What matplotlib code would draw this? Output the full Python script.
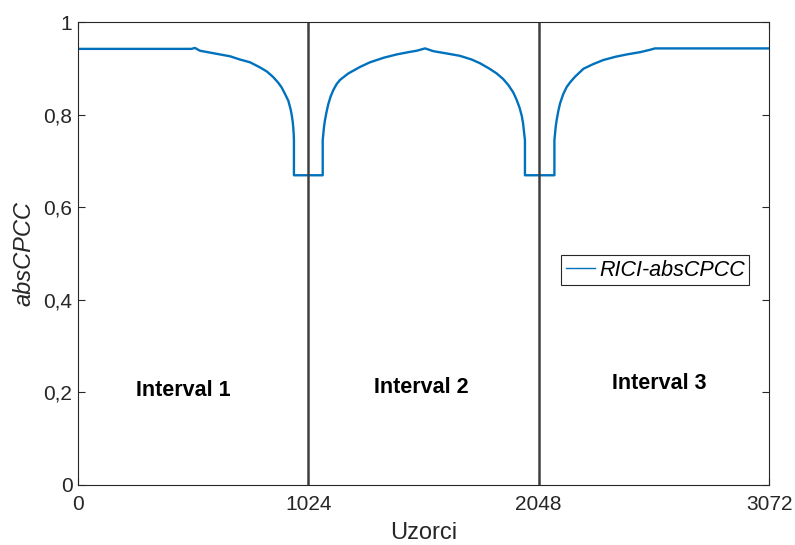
import matplotlib
matplotlib.use("Agg")
import matplotlib.pyplot as plt
from matplotlib.lines import Line2D

plt.rcParams['font.family'] = ['Liberation Sans', 'DejaVu Sans']

# values
samples = [0, 505, 520, 542, 631, 676, 720, 765, 809, 840, 868, 890, 905, 920, 935,
           945, 950, 955, 957, 959, 960,
           960, 1088,
           1088, 1091, 1094, 1098, 1105, 1113, 1123, 1135, 1150, 1165, 1202, 1254,
           1298, 1360, 1417, 1470, 1506, 1543, 1580, 1640, 1698, 1750, 1787, 1830,
           1861, 1890, 1913, 1935, 1950, 1963, 1973, 1979, 1983, 1987,
           1987, 2118,
           2118, 2121, 2124, 2128, 2135, 2143, 2157, 2173, 2190, 2210, 2247, 2290,
           2336, 2390, 2440, 2500, 2543, 2565, 3072]
abs_cpcc = [0.942, 0.942, 0.944, 0.938, 0.930, 0.926, 0.919, 0.913, 0.902, 0.893, 0.881, 0.869, 0.859, 0.845, 0.830,
            0.812, 0.800, 0.783, 0.772, 0.758, 0.745,
            0.669, 0.669,
            0.745, 0.760, 0.775, 0.788, 0.806, 0.823, 0.839, 0.853, 0.866, 0.875, 0.889, 0.903,
            0.913, 0.923, 0.930, 0.935, 0.938, 0.943, 0.937, 0.932, 0.927, 0.919, 0.911, 0.899,
            0.889, 0.877, 0.864, 0.848, 0.832, 0.815, 0.797, 0.780, 0.762, 0.745,
            0.669, 0.669,
            0.745, 0.760, 0.775, 0.788, 0.807, 0.824, 0.844, 0.860, 0.871, 0.882, 0.899, 0.909,
            0.918, 0.925, 0.930, 0.935, 0.940, 0.943, 0.943]

boundaries = [1024, 2048]
x_ticks = [0, 1024, 2048, 3072]
y_ticks = [0, 0.2, 0.4, 0.6, 0.8, 1]
y_tick_labels = ['0', '0,2', '0,4', '0,6', '0,8', '1']
interval_labels = ['Interval 1', 'Interval 2', 'Interval 3']
interval_x = [467, 1525, 2583]
interval_y = [0.205, 0.21, 0.22]

blue = '#0072BD'
axis_col = '#262626'

fig = plt.figure(figsize=(7.95, 5.45), dpi=100)
ax = fig.add_axes([0.0981, 0.1101, 0.8692, 0.8495])

ax.plot(samples, abs_cpcc, color=blue, lw=1.7)
for b in boundaries:
    ax.axvline(b, color='#404040', lw=1.8)

for lab, tx, ty in zip(interval_labels, interval_x, interval_y):
    ax.text(tx, ty, lab, fontsize=15.5, fontweight='bold', ha='center', va='center')

ax.set_xlim(0, 3072)
ax.set_ylim(0, 1)
ax.set_xticks(x_ticks)
ax.set_yticks(y_ticks)
ax.set_yticklabels(y_tick_labels)
ax.tick_params(direction='in', length=5, width=0.8, top=True, right=True,
               labelsize=15, colors=axis_col)
ax.tick_params(axis='x', pad=7)
ax.tick_params(axis='y', pad=4)
for sp in ax.spines.values():
    sp.set_color(axis_col)
    sp.set_linewidth(0.8)

ax.set_xlabel('Uzorci', fontsize=17, color=axis_col, labelpad=6)
ax.set_ylabel('absCPCC', fontsize=17, style='italic', color=axis_col, labelpad=6)

handle = Line2D([], [], color=blue, lw=1.0)
leg = ax.legend([handle], ['RICI-absCPCC'], loc='center right',
                bbox_to_anchor=(0.971, 0.464), fancybox=False, framealpha=1,
                edgecolor=axis_col, prop={'size': 15.5, 'style': 'italic'},
                handlelength=1.35, borderpad=0.2, handletextpad=0.2,
                borderaxespad=0)
leg.get_frame().set_linewidth(0.8)

fig.savefig('out.png', dpi=100)
